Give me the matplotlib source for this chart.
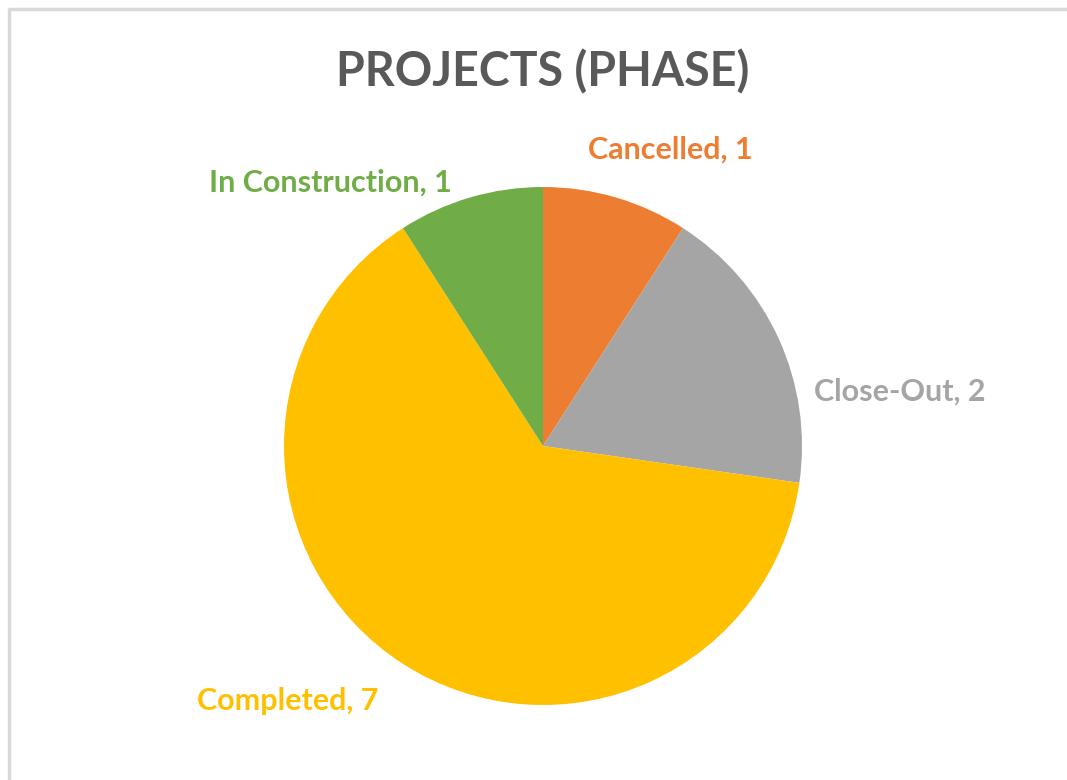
import matplotlib.pyplot as plt
from matplotlib.lines import Line2D

# data
phases = ['Cancelled', 'Close-Out', 'Completed', 'In Construction']
counts = [1, 2, 7, 1]
colors = ['#ED7D31', '#A5A5A5', '#FFC000', '#70AD47']
# label positions (pixel coords, y measured from top)
label_pos = [(670, 150), (900, 392), (288, 701), (330, 183)]

W, H = 1067, 780
fig = plt.figure(figsize=(W / 100, H / 100), dpi=100)
ax = fig.add_axes([0, 0, 1, 1])

ax.pie(counts, colors=colors, startangle=90, counterclock=False,
       center=(543, H - 446), radius=259,
       wedgeprops=dict(linewidth=0))
ax.set_xlim(0, W)
ax.set_ylim(0, H)
ax.set_aspect('equal')
ax.axis('off')

# chart frame: only left and top edges are visible in the crop
fig.add_artist(Line2D([9 / W, 9 / W, 1.05], [-0.05, 1 - 9 / H, 1 - 9 / H],
                      color='#D9D9D9', linewidth=2.5))

for name, n, c, (x, y) in zip(phases, counts, colors, label_pos):
    ax.text(x, H - y, f'{name}, {n}', color=c, fontsize=22,
            fontweight='bold', family='Lato', ha='center', va='center')

ax.text(543, H - 72, 'PROJECTS (PHASE)', color='#595959', fontsize=33.5,
        fontweight='bold', family='Lato', ha='center', va='center')

fig.savefig('out.png', dpi=100)
